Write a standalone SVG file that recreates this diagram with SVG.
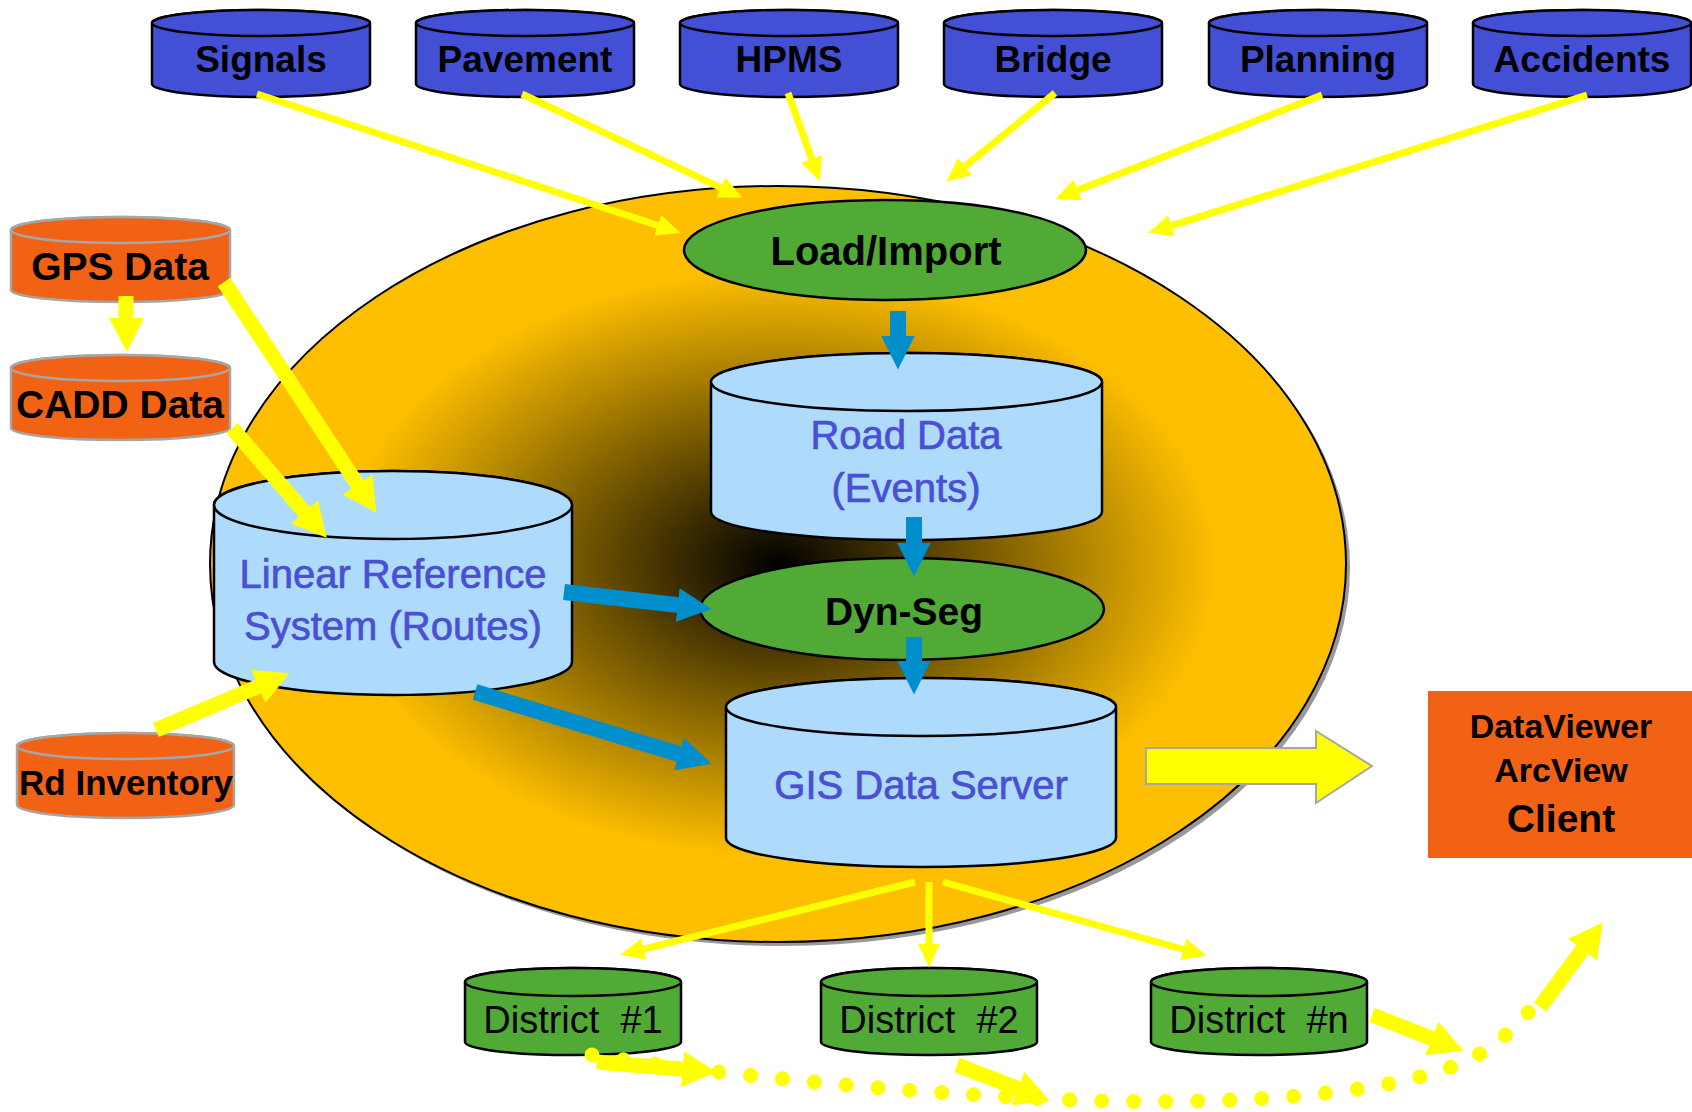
<svg xmlns="http://www.w3.org/2000/svg" width="1692" height="1112" viewBox="0 0 1692 1112">
<defs>
<radialGradient id="glow" cx="0.5" cy="0.5" r="0.5">
<stop offset="0" stop-color="#000000"/>
<stop offset="0.77" stop-color="#fdbe00"/>
<stop offset="1" stop-color="#fdbf00"/>
</radialGradient>
<marker id="ah-s" markerUnits="userSpaceOnUse" markerWidth="26" markerHeight="24" refX="0.5" refY="12" orient="auto"><path d="M0,1 L24,12 L0,23 Z" fill="#ffff00"/></marker>
<marker id="ah-y" markerUnits="userSpaceOnUse" markerWidth="36" markerHeight="38" refX="0.5" refY="19" orient="auto"><path d="M0,1 L34,19 L0,37 Z" fill="#ffff00"/></marker>
<marker id="ah-b" markerUnits="userSpaceOnUse" markerWidth="36" markerHeight="36" refX="0.5" refY="18" orient="auto"><path d="M0,1 L34,18 L0,35 Z" fill="#008fcc"/></marker>
<style>
.src{fill:#4350d5;stroke:#000;stroke-width:2.5}
.ext{fill:#f26215;stroke:#a6a6a6;stroke-width:2.5}
.db{fill:#aedbfc;stroke:#000;stroke-width:2.5}
.dist{fill:#52aa36;stroke:#000;stroke-width:2.5}
.proc{fill:#52aa36;stroke:#000;stroke-width:2.5}
.lbl{font-family:"Liberation Sans",Arial,sans-serif;font-weight:bold;fill:#000;text-anchor:middle}
.blbl{font-family:"Liberation Sans",Arial,sans-serif;fill:#4a4fd3;stroke:#4a4fd3;stroke-width:0.7;text-anchor:middle;font-size:40px}
.dlbl{font-family:"Liberation Sans",Arial,sans-serif;fill:#000;text-anchor:middle;font-size:38px}
.ys{stroke:#ffff00;stroke-width:7;fill:none;marker-end:url(#ah-s)}
.yb{stroke:#ffff00;stroke-width:15;fill:none;marker-end:url(#ah-y)}
.bb{stroke:#008fcc;stroke-width:16;fill:none;marker-end:url(#ah-b)}
.dots{stroke:#ffff00;stroke-width:15;stroke-linecap:round;stroke-dasharray:0 32;fill:none}
</style>
</defs>
<rect width="1692" height="1112" fill="#ffffff"/>

<g id="scope">
<ellipse cx="782" cy="568" rx="568" ry="378" fill="#999999"/>
<ellipse cx="778" cy="564" rx="568" ry="378" fill="url(#glow)" stroke="#000" stroke-width="2"/>
</g>

<g id="signals">
<path class="src" d="M152,23 V84 A109,13 0 0 0 370,84 V23 A109,13 0 0 0 152,23 Z"/>
<ellipse class="src" cx="261" cy="23" rx="109" ry="13"/>
<text class="lbl" x="261" y="72" font-size="37">Signals</text>
</g>
<g id="pavement">
<path class="src" d="M416,23 V84 A109,13 0 0 0 634,84 V23 A109,13 0 0 0 416,23 Z"/>
<ellipse class="src" cx="525" cy="23" rx="109" ry="13"/>
<text class="lbl" x="525" y="72" font-size="37">Pavement</text>
</g>
<g id="hpms">
<path class="src" d="M680,23 V84 A109,13 0 0 0 898,84 V23 A109,13 0 0 0 680,23 Z"/>
<ellipse class="src" cx="789" cy="23" rx="109" ry="13"/>
<text class="lbl" x="789" y="72" font-size="37">HPMS</text>
</g>
<g id="bridge">
<path class="src" d="M944,23 V84 A109,13 0 0 0 1162,84 V23 A109,13 0 0 0 944,23 Z"/>
<ellipse class="src" cx="1053" cy="23" rx="109" ry="13"/>
<text class="lbl" x="1053" y="72" font-size="37">Bridge</text>
</g>
<g id="planning">
<path class="src" d="M1209,23 V84 A109,13 0 0 0 1427,84 V23 A109,13 0 0 0 1209,23 Z"/>
<ellipse class="src" cx="1318" cy="23" rx="109" ry="13"/>
<text class="lbl" x="1318" y="72" font-size="37">Planning</text>
</g>
<g id="accidents">
<path class="src" d="M1473,23 V84 A109,13 0 0 0 1691,84 V23 A109,13 0 0 0 1473,23 Z"/>
<ellipse class="src" cx="1582" cy="23" rx="109" ry="13"/>
<text class="lbl" x="1582" y="72" font-size="37">Accidents</text>
</g>

<g id="gps-data">
<path class="ext" d="M11,230 V290 A109.5,12 0 0 0 230,290 V230 A109.5,13 0 0 0 11,230 Z"/>
<ellipse class="ext" cx="120.5" cy="230" rx="109.5" ry="13"/>
<text class="lbl" x="120" y="280" font-size="39">GPS Data</text>
</g>
<g id="cadd-data">
<path class="ext" d="M11,368 V428 A109.5,12 0 0 0 230,428 V368 A109.5,13 0 0 0 11,368 Z"/>
<ellipse class="ext" cx="120.5" cy="368" rx="109.5" ry="13"/>
<text class="lbl" x="120" y="418" font-size="39">CADD Data</text>
</g>
<g id="rd-inventory">
<path class="ext" d="M17,746 V805 A108.5,13 0 0 0 234,805 V746 A108.5,13 0 0 0 17,746 Z"/>
<ellipse class="ext" cx="125.5" cy="746" rx="108.5" ry="13"/>
<text class="lbl" x="126" y="795" font-size="35">Rd Inventory</text>
</g>

<g id="load-import">
<ellipse class="proc" cx="885" cy="250" rx="201" ry="50"/>
<text class="lbl" x="886" y="265" font-size="40">Load/Import</text>
</g>
<g id="road-data">
<path class="db" d="M711,382 V512 A195.5,28 0 0 0 1102,512 V382 A195.5,29 0 0 0 711,382 Z"/>
<ellipse class="db" cx="906.5" cy="382" rx="195.5" ry="29"/>
<text class="blbl" x="906" y="449">Road Data</text>
<text class="blbl" x="906" y="502">(Events)</text>
</g>
<g id="lrs">
<path class="db" d="M214,505 V662 A179,33 0 0 0 572,662 V505 A179,34 0 0 0 214,505 Z"/>
<ellipse class="db" cx="393" cy="505" rx="179" ry="34"/>
<text class="blbl" x="393" y="588">Linear Reference</text>
<text class="blbl" x="393" y="640">System (Routes)</text>
</g>
<g id="dyn-seg">
<ellipse class="proc" cx="902" cy="609" rx="202" ry="51"/>
<text class="lbl" x="904" y="625" font-size="39">Dyn-Seg</text>
</g>
<g id="gis-data-server">
<path class="db" d="M726,707 V838 A195,29 0 0 0 1116,838 V707 A195,29 0 0 0 726,707 Z"/>
<ellipse class="db" cx="921" cy="707" rx="195" ry="29"/>
<text class="blbl" x="921" y="799" font-size="41">GIS Data Server</text>
</g>

<g id="client">
<rect x="1428" y="691" width="264" height="167" fill="#f26215"/>
<text class="lbl" x="1561" y="738" font-size="34">DataViewer</text>
<text class="lbl" x="1561" y="782" font-size="34">ArcView</text>
<text class="lbl" x="1561" y="832" font-size="39">Client</text>
</g>

<g id="district-1">
<path class="dist" d="M465,982 V1042 A108,13 0 0 0 681,1042 V982 A108,14 0 0 0 465,982 Z"/>
<ellipse class="dist" cx="573" cy="982" rx="108" ry="14"/>
<text class="dlbl" x="573" y="1033" xml:space="preserve">District  #1</text>
</g>
<g id="district-2">
<path class="dist" d="M821,982 V1042 A108,13 0 0 0 1037,1042 V982 A108,14 0 0 0 821,982 Z"/>
<ellipse class="dist" cx="929" cy="982" rx="108" ry="14"/>
<text class="dlbl" x="929" y="1033" xml:space="preserve">District  #2</text>
</g>
<g id="district-n">
<path class="dist" d="M1151,982 V1042 A108,13 0 0 0 1367,1042 V982 A108,14 0 0 0 1151,982 Z"/>
<ellipse class="dist" cx="1259" cy="982" rx="108" ry="14"/>
<text class="dlbl" x="1259" y="1033" xml:space="preserve">District  #n</text>
</g>

<g id="connectors">
<path class="ys" d="M257,94 L658.2,225.5"/>
<path class="ys" d="M522,94 L721.3,187.8"/>
<path class="ys" d="M788,93 L811.9,159.4"/>
<path class="ys" d="M1055,93 L964.6,166.8"/>
<path class="ys" d="M1322,95 L1077.4,190.3"/>
<path class="ys" d="M1587,95 L1170.9,225.8"/>

<path class="ys" d="M915,882 L643.3,949.2"/>
<path class="ys" d="M929,882 L929,944"/>
<path class="ys" d="M943,882 L1183.9,949.5"/>

<path class="yb" d="M126,296 L126,318" style="marker-end:none"/>
<polygon points="109,318 144,318 127,352" fill="#ffff00"/>
<path class="yb" d="M224,282 L357.8,484.9"/>
<path class="yb" d="M232,428 L304.8,512.3"/>
<path class="yb" d="M156,730 L258.7,686.3"/>

<path class="bb" d="M898,311 L898,336"/>
<path class="bb" d="M914,517 L914,543"/>
<path class="bb" d="M914,637 L914,661"/>
<path class="bb" d="M564,592 L678.2,605.1"/>
<path class="bb" d="M475,692 L679.5,754.1"/>

<polygon points="1146,748 1316,748 1316,731 1372,766 1316,803 1316,784 1146,784" fill="#ffff00" stroke="#a6a6a6" stroke-width="2"/>

<path class="dots" d="M592,1055 C700,1072 900,1094 1100,1101 C1300,1105 1420,1086 1476,1056 C1510,1036 1530,1012 1548,988"/>
<path class="yb" d="M597,1062 L683.1,1069.2"/>
<path class="yb" d="M957,1065 L1018.3,1088.7"/>
<path class="yb" d="M1372,1015 L1432.3,1038.6"/>
<path class="yb" d="M1540,1007 L1582.8,949.3"/>
</g>
</svg>
